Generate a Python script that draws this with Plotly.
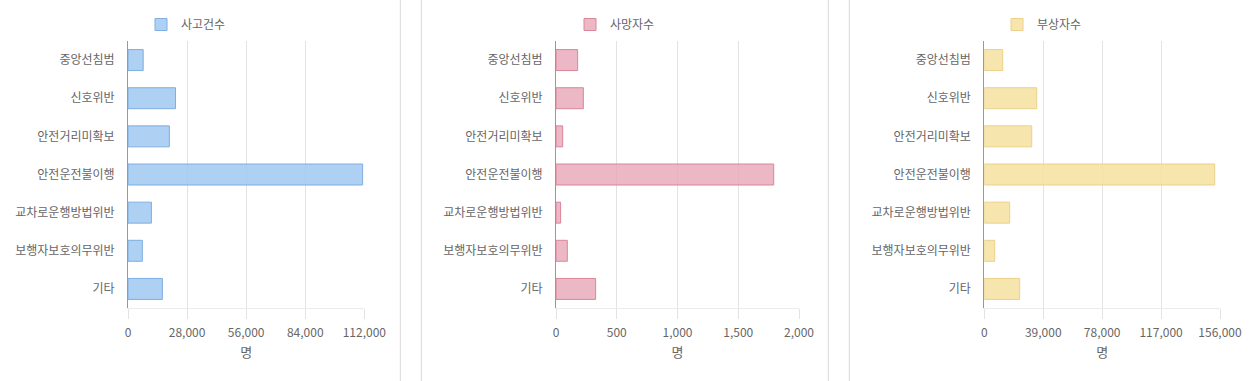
import plotly.graph_objects as go

categories = ["중앙선침범", "신호위반", "안전거리미확보", "안전운전불이행",
              "교차로운행방법위반", "보행자보호의무위반", "기타"]
accidents = [7200, 22500, 19600, 111200, 11100, 6800, 16300]
deaths = [178, 225, 55, 1792, 38, 93, 326]
injuries = [12200, 34700, 31400, 152500, 16800, 6900, 23400]

series_names = ["사고건수", "사망자수", "부상자수"]
x_ticks = [[0, 28000, 56000, 84000, 112000],
           [0, 500, 1000, 1500, 2000],
           [0, 39000, 78000, 117000, 156000]]
unit = "명"

W, H = 1257, 381
fills = ["rgba(160,200,240,0.85)", "rgba(232,166,182,0.8)", "rgba(246,224,160,0.85)"]
lines = ["#7faee0", "#d98699", "#ecd08a"]

# pixel geometry of each panel
px_left = [128, 556, 984.3]
px_right = [364.3, 799, 1220]
legend_x = [154, 583, 1010]
top, bottom = 41, 308

fig = go.Figure()
data = [accidents, deaths, injuries]
font = "Noto Sans CJK KR, Malgun Gothic, sans-serif"

for i in range(3):
    sfx = "" if i == 0 else str(i + 1)
    fig.add_trace(go.Bar(
        x=data[i], y=categories, orientation="h", name=series_names[i],
        marker=dict(color=fills[i], line=dict(color=lines[i], width=1)),
        xaxis="x" + sfx, yaxis="y" + sfx, legend="legend" + sfx,
        showlegend=True,
        hovertemplate="%{y}: %{x:,}<extra></extra>",
    ))
    fig.update_layout(**{
        "xaxis" + sfx: dict(
            domain=[px_left[i] / W, px_right[i] / W],
            anchor="y" + sfx,
            automargin=False,
            range=[0, x_ticks[i][-1]],
            tickvals=x_ticks[i],
            ticktext=[f"{v:,}" for v in x_ticks[i]],
            showgrid=True, gridcolor="#e3e3e3", gridwidth=1,
            zeroline=False,
            showline=True, linecolor="#ebebeb", linewidth=1,
            ticks="outside", ticklen=10, tickcolor="#e3e3e3",
            ticklabelstandoff=4,
            tickfont=dict(size=12, color="#666", family=font),
            title=dict(text=unit, font=dict(size=13, color="#666", family=font), standoff=8),
            fixedrange=True,
        ),
        "yaxis" + sfx: dict(
            domain=[1 - bottom / H, 1 - top / H],
            anchor="x" + sfx,
            automargin=False,
            autorange="reversed",
            showline=True, linecolor="#999", linewidth=1,
            showgrid=False, ticks="",
            ticklabelstandoff=10,
            tickfont=dict(size=12, color="#666", family=font),
            fixedrange=True,
        ),
        "legend" + sfx: dict(
            x=(legend_x[i] - 13) / W, y=1 - 10 / H, xanchor="left", yanchor="top",
            orientation="h", bgcolor="rgba(0,0,0,0)", visible=True,
            font=dict(size=12, color="#666", family=font),
        ),
    })

# panel dividers
for xp in [400.3, 421.3, 828.3, 849.3]:
    fig.add_shape(type="line", xref="paper", yref="paper",
                  x0=xp / W, x1=xp / W, y0=0, y1=1,
                  line=dict(color="#d9d9d9", width=1))

fig.update_layout(
    width=W, height=H,
    margin=dict(l=0, r=0, t=0, b=0, autoexpand=False),
    paper_bgcolor="white", plot_bgcolor="white",
    showlegend=True,
    bargap=0.45,
    font=dict(family=font, color="#666"),
)

fig.write_html(
    "out.html",
    config={"responsive": False, "displayModeBar": False},
    post_script="document.body.style.margin='0';document.body.style.overflow='hidden';",
)
